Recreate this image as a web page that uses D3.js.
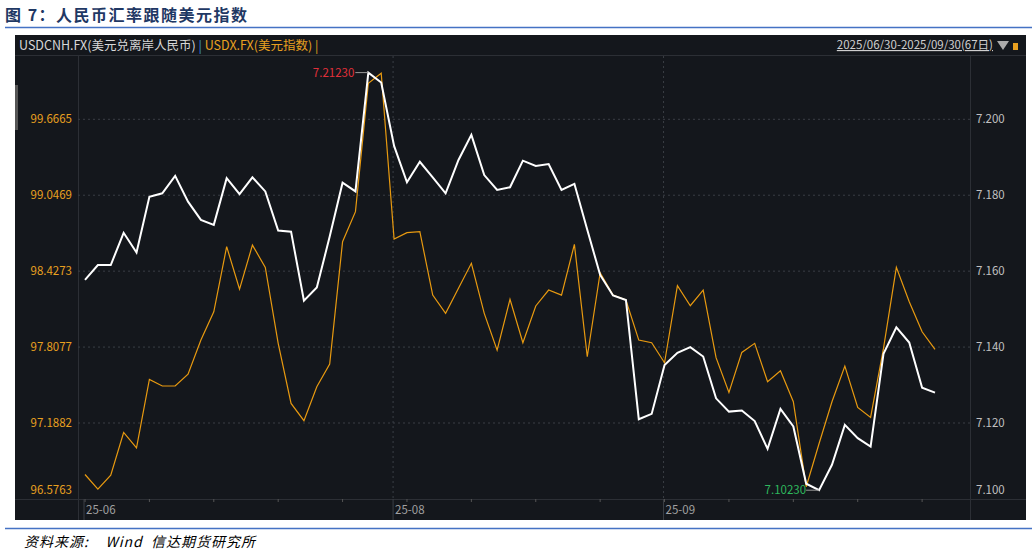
<!DOCTYPE html>
<html><head><meta charset="utf-8">
<script src="https://cdn.jsdelivr.net/npm/d3@7"></script>
<style>body{margin:0;background:#fff;}svg{display:block;}</style>
</head><body><svg id="c" width="1032" height="553"></svg>
<script>
const cnh = [7.1577,7.1616,7.1616,7.1701,7.1649,7.1796,7.1805,7.1851,7.1783,7.1735,7.1722,7.1845,7.1803,7.1847,7.1810,7.1707,7.1704,7.1522,7.1557,7.1691,7.1833,7.1810,7.2123,7.2097,7.1930,7.1834,7.1888,7.1847,7.1805,7.1893,7.1959,7.1853,7.1814,7.1821,7.1891,7.1877,7.1882,7.1814,7.1830,7.1709,7.1590,7.1536,7.1524,7.1210,7.1224,7.1353,7.1385,7.1400,7.1375,7.1265,7.1230,7.1233,7.1205,7.1132,7.1237,7.1191,7.1040,7.1023,7.1090,7.1195,7.1160,7.1138,7.1382,7.1452,7.1412,7.1293,7.1280];
const usdx = [96.768,96.649,96.763,97.111,96.986,97.544,97.490,97.490,97.587,97.865,98.096,98.627,98.281,98.640,98.458,97.838,97.348,97.207,97.484,97.669,98.668,98.913,99.960,100.042,98.689,98.741,98.749,98.232,98.083,98.287,98.491,98.083,97.783,98.197,97.843,98.143,98.273,98.232,98.646,97.729,98.415,98.232,98.192,97.865,97.843,97.680,98.309,98.145,98.273,97.721,97.438,97.764,97.838,97.525,97.615,97.362,96.668,97.021,97.362,97.653,97.315,97.234,97.797,98.458,98.178,97.933,97.789];
const leftTicks = [96.5763,97.1882,97.8077,98.4273,99.0469,99.6665];
const rightTicks = [7.100,7.120,7.140,7.160,7.180,7.200];
const xTickIdx = [0,24,45];
const xTickLabels = ["25-06","25-08","25-09"];
const maxLabel = "7.21230", minLabel = "7.10230";

const svg = d3.select("#c");
const F = "'Microsoft YaHei','Noto Sans CJK SC',sans-serif";
svg.append("text").attr("x",5).attr("y",21).attr("font-family",F).attr("font-size",16).attr("font-weight","bold").attr("letter-spacing",1.5).attr("fill","#1f3864").text("图 7：人民币汇率跟随美元指数");
svg.append("line").attr("x1",5).attr("x2",1032).attr("y1",27.5).attr("y2",27.5).attr("stroke","#4472c4").attr("stroke-width",1.5);
svg.append("rect").attr("x",15).attr("y",35).attr("width",1011).attr("height",485).attr("fill","#14171c");
svg.append("rect").attr("x",15).attr("y",85).attr("width",3).attr("height",45).attr("fill","#555");
svg.append("line").attr("x1",15).attr("x2",1026).attr("y1",55.5).attr("y2",55.5).attr("stroke","#2c2f35");
const hd = svg.append("text").attr("x",19).attr("y",50).attr("font-family",F).attr("font-size",12.5);
hd.append("tspan").attr("fill","#d8d8d8").text("USDCNH.FX(美元兑离岸人民币) ");
hd.append("tspan").attr("fill","#3b8fd9").text("| ");
hd.append("tspan").attr("fill","#e8a020").text("USDX.FX(美元指数) |");
svg.append("text").attr("x",993).attr("y",49).attr("text-anchor","end").attr("font-family",F).attr("font-size",11.5).attr("fill","#cfcfcf").attr("text-decoration","underline").text("2025/06/30-2025/09/30(67日)");
svg.append("path").attr("d","M997,41 L1009,41 L1003,50 Z").attr("fill","#aaa");
svg.append("rect").attr("x",1013).attr("y",43).attr("width",5).attr("height",7).attr("fill","#e8a020");

const x = d3.scaleLinear().domain([0,66]).range([85,935]);
const yR = d3.scaleLinear().domain([7.12,7.2]).range([423,119.3]);
const yL = d3.scaleLinear().domain([97.1882,99.6665]).range([423,119.3]);
const pTop=56, pBot=499, pL=78, pR=970;
svg.append("line").attr("x1",pL+.5).attr("x2",pL+.5).attr("y1",pTop).attr("y2",520).attr("stroke","#2c2f35");
svg.append("line").attr("x1",pR+.5).attr("x2",pR+.5).attr("y1",pTop).attr("y2",520).attr("stroke","#2c2f35");
svg.append("line").attr("x1",15).attr("x2",1026).attr("y1",pBot+.5).attr("y2",pBot+.5).attr("stroke","#2c2f35");
rightTicks.slice(1).forEach(t=>{
  svg.append("line").attr("x1",pL).attr("x2",pR).attr("y1",yR(t)).attr("y2",yR(t)).attr("stroke","#3a3e45").attr("stroke-dasharray","2,3");
});
xTickIdx.slice(1).forEach(i=>{
  svg.append("line").attr("x1",x(i)-1).attr("x2",x(i)-1).attr("y1",pTop).attr("y2",pBot).attr("stroke","#3a3e45").attr("stroke-dasharray","2,3");
});
const la = svg.append("g").attr("transform",`translate(${pL},0)`).call(d3.axisLeft(yL).tickValues(leftTicks).tickSize(0).tickPadding(6).tickFormat(d3.format(".4f")));
la.select(".domain").remove();
la.selectAll("text").attr("fill","#e8a020").attr("font-family",F).attr("font-size",11.5);
la.selectAll(".tick").filter(d=>d===leftTicks[0]).attr("transform",`translate(0,490)`);
const ra = svg.append("g").attr("transform",`translate(${pR},0)`).call(d3.axisRight(yR).tickValues(rightTicks).tickSize(0).tickPadding(6).tickFormat(d3.format(".3f")));
ra.select(".domain").remove();
ra.selectAll("text").attr("fill","#c0c0c0").attr("font-family",F).attr("font-size",11.5);
ra.selectAll(".tick").filter(d=>d===rightTicks[0]).attr("transform",`translate(0,490)`);
d3.range(0,67,5).forEach(i=>{
  svg.append("line").attr("x1",x(i)).attr("x2",x(i)).attr("y1",pBot).attr("y2",pBot+3).attr("stroke","#555");
});
xTickIdx.forEach((i,k)=>{
  svg.append("line").attr("x1",x(i)-1).attr("x2",x(i)-1).attr("y1",pBot).attr("y2",520).attr("stroke","#3a3e45");
  svg.append("text").attr("x",x(i)+1).attr("y",514).attr("font-family",F).attr("font-size",11.5).attr("fill","#a0a0a0").text(xTickLabels[k]);
});
svg.append("path").datum(usdx).attr("fill","none").attr("stroke","#e89a10").attr("stroke-width",1.2)
  .attr("d",d3.line().x((d,i)=>x(i)).y(d=>yL(d)));
svg.append("path").datum(cnh).attr("fill","none").attr("stroke","#ffffff").attr("stroke-width",2)
  .attr("d",d3.line().x((d,i)=>x(i)).y(d=>yR(d)));
const iMax = cnh.indexOf(d3.max(cnh)), iMin = cnh.indexOf(d3.min(cnh));
svg.append("line").attr("x1",x(iMax)-13).attr("x2",x(iMax)).attr("y1",yR(cnh[iMax])).attr("y2",yR(cnh[iMax])).attr("stroke","#999");
svg.append("text").attr("x",x(iMax)-14).attr("y",yR(cnh[iMax])+4).attr("text-anchor","end").attr("font-family",F).attr("font-size",11.5).attr("fill","#e0303a").text(maxLabel);
svg.append("line").attr("x1",x(iMin)-13).attr("x2",x(iMin)).attr("y1",yR(cnh[iMin])).attr("y2",yR(cnh[iMin])).attr("stroke","#999");
svg.append("text").attr("x",x(iMin)-13).attr("y",yR(cnh[iMin])+4).attr("text-anchor","end").attr("font-family",F).attr("font-size",11.5).attr("fill","#2eb85c").text(minLabel);
svg.append("line").attr("x1",5).attr("x2",1032).attr("y1",528.5).attr("y2",528.5).attr("stroke","#4472c4").attr("stroke-width",1.5);
svg.append("text").attr("x",24).attr("y",547).attr("font-family",F).attr("font-size",14).attr("font-style","italic").attr("letter-spacing",1).attr("fill","#000").attr("xml:space","preserve").text("资料来源:    Wind  信达期货研究所");
</script></body></html>
